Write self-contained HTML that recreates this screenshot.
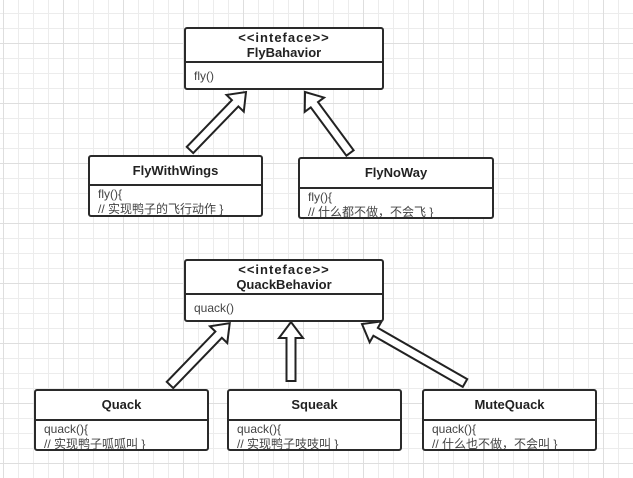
<!DOCTYPE html>
<html><head><meta charset="utf-8"><style>
html,body{margin:0;padding:0;}
body{width:633px;height:478px;overflow:hidden;background:#fff;position:relative;
background-image:
linear-gradient(to right,#dedede 1px,transparent 1px),
linear-gradient(to bottom,#dedede 1px,transparent 1px),
linear-gradient(to right,#ececec 1px,transparent 1px),
linear-gradient(to bottom,#ececec 1px,transparent 1px);
background-size:60px 60px,60px 60px,15px 15px,15px 15px;
background-position:3px 43px,3px 43px,3px 13px,3px 13px;
font-family:"Liberation Sans","Noto Sans CJK SC",sans-serif;}
.b{position:absolute;border:2px solid #2a2a2a;border-radius:3px;background:#fff;box-sizing:border-box;overflow:hidden;}
.h{border-bottom:2px solid #2a2a2a;box-sizing:border-box;text-align:center;font-weight:bold;font-size:13px;color:#222;}
.t{font-size:12px;color:#444;padding-left:8px;line-height:15px;}
svg{position:absolute;left:0;top:0;}
</style></head><body>
<svg width="633" height="478">
<g fill="#fff" stroke="#222" stroke-width="2" stroke-linejoin="miter">
<polygon transform="translate(190,150) rotate(44)" points="-4.5,0 -4.5,-65 -12,-65 0,-80.6 12,-65 4.5,-65 4.5,0"/>
<polygon transform="translate(350,153) rotate(-36.4)" points="-4.5,0 -4.5,-60 -12,-60 0,-75.8 12,-60 4.5,-60 4.5,0"/>
<polygon transform="translate(170,385) rotate(44)" points="-4.5,0 -4.5,-70 -12,-70 0,-86 12,-70 4.5,-70 4.5,0"/>
<polygon transform="translate(291,381) rotate(0)" points="-4.5,0 -4.5,-43 -12,-43 0,-59 12,-43 4.5,-43 4.5,0"/>
<polygon transform="translate(465,383) rotate(-60.2)" points="-4.5,0 -4.5,-103 -12,-103 0,-118.7 12,-103 4.5,-103 4.5,0"/>
</g></svg>

<div class="b" style="left:184px;top:27px;width:200px;height:63px;">
<div class="h" style="height:34px;padding-top:1px;line-height:15px;"><span style="letter-spacing:1px">&lt;&lt;inteface&gt;&gt;</span><br>FlyBahavior</div>
<div class="t" style="padding-top:6px;">fly()</div></div>

<div class="b" style="left:88px;top:155px;width:175px;height:62px;">
<div class="h" style="height:29px;line-height:27px;">FlyWithWings</div>
<div class="t" style="padding-top:1px;">fly(){<br>// 实现鸭子的飞行动作 }</div></div>

<div class="b" style="left:298px;top:157px;width:196px;height:62px;">
<div class="h" style="height:30px;line-height:28px;">FlyNoWay</div>
<div class="t" style="padding-top:1px;">fly(){<br>// 什么都不做，不会飞 }</div></div>

<div class="b" style="left:184px;top:259px;width:200px;height:63px;">
<div class="h" style="height:34px;padding-top:1px;line-height:15px;"><span style="letter-spacing:1px">&lt;&lt;inteface&gt;&gt;</span><br>QuackBehavior</div>
<div class="t" style="padding-top:6px;">quack()</div></div>

<div class="b" style="left:34px;top:389px;width:175px;height:62px;">
<div class="h" style="height:30px;line-height:28px;">Quack</div>
<div class="t" style="padding-top:1px;">quack(){<br>// 实现鸭子呱呱叫 }</div></div>

<div class="b" style="left:227px;top:389px;width:175px;height:62px;">
<div class="h" style="height:30px;line-height:28px;">Squeak</div>
<div class="t" style="padding-top:1px;">quack(){<br>// 实现鸭子吱吱叫 }</div></div>

<div class="b" style="left:422px;top:389px;width:175px;height:62px;">
<div class="h" style="height:30px;line-height:28px;">MuteQuack</div>
<div class="t" style="padding-top:1px;">quack(){<br>// 什么也不做，不会叫 }</div></div>
</body></html>
